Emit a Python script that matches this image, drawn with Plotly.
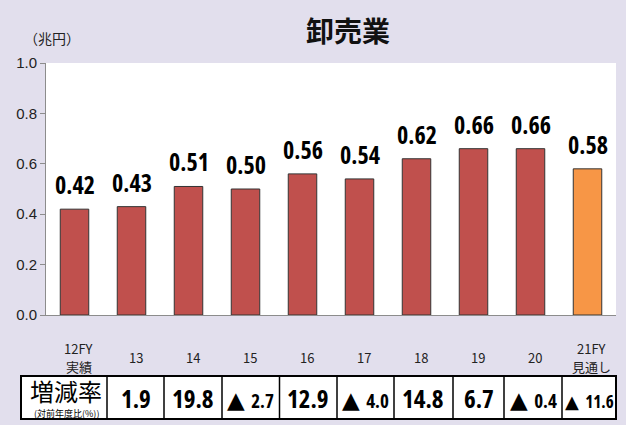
import plotly.graph_objects as go

# Wholesale sales (trillion yen) by fiscal year
categories = ["12FY<br>実績", "13", "14", "15", "16", "17", "18", "19", "20", "21FY<br>見通し"]
values = [0.42, 0.43, 0.51, 0.50, 0.56, 0.54, 0.62, 0.66, 0.66, 0.58]
growth = [1.9, 19.8, -2.7, 12.9, -4.0, 14.8, 6.7, -0.4, -11.6]
bar_colors = ["#C0504D"] * 9 + ["#F79646"]
y_ticks = [0.0, 0.2, 0.4, 0.6, 0.8, 1.0]

W, H = 626, 425
ML, MR, MT, MB = 46, 10, 63, 110
PW, PH = W - ML - MR, H - MT - MB

NUM_FONT = "Open Sans, Liberation Sans, Arial, sans-serif"
JP_FONT = "Noto Sans CJK JP, sans-serif"
NARROW = "font-stretch:75%"


def px_x(p):
    return (p - ML) / PW


def px_y(p):
    return (H - MB - p) / PH


xs = list(range(len(categories)))

fig = go.Figure(
    go.Bar(
        x=xs,
        y=values,
        width=0.5,
        marker=dict(color=bar_colors, line=dict(color="#333333", width=1)),
        hoverinfo="skip",
    )
)

annotations = []
# value labels above bars
for x, v in zip(xs, values):
    annotations.append(dict(
        x=x, y=v, xref="x", yref="y",
        text=f"<span style='{NARROW}'>{v:.2f}</span>", showarrow=False,
        yanchor="bottom", yshift=6,
        font=dict(family=NUM_FONT, size=24, color="#000000", weight="bold"),
    ))

# category labels under the axis (two-line labels placed line by line)
for x, c in zip(xs, categories):
    lines = c.split("<br>")
    ys = [357] if len(lines) == 1 else [348, 366]
    for line, py in zip(lines, ys):
        annotations.append(dict(
            x=x, y=px_y(py), xref="x", yref="paper", text=line,
            showarrow=False, xshift=4, yanchor="middle",
            font=dict(family=JP_FONT, size=13, color="#222222"),
        ))

# title and unit
annotations.append(dict(
    x=px_x(348), y=px_y(30), xref="paper", yref="paper", text="<b>卸売業</b>",
    showarrow=False, xanchor="center", yanchor="middle",
    font=dict(family=JP_FONT, size=28, color="#111111"),
))
annotations.append(dict(
    x=px_x(52), y=px_y(38), xref="paper", yref="paper", text="（兆円）",
    showarrow=False, xanchor="center", yanchor="middle",
    font=dict(family=JP_FONT, size=14, color="#222222"),
))

# growth-rate table
col_edges = [21, 107, 164, 222, 279.5, 337, 394, 453, 504, 562, 616]
t_top, t_bot = 376, 419
shapes = [dict(
    type="rect", xref="paper", yref="paper",
    x0=px_x(col_edges[0]), x1=px_x(col_edges[-1]), y0=px_y(t_bot), y1=px_y(t_top),
    line=dict(color="#000000", width=2), fillcolor="#FFFFFF", layer="below",
)]
for e in col_edges[1:-1]:
    shapes.append(dict(
        type="line", xref="paper", yref="paper",
        x0=px_x(e), x1=px_x(e), y0=px_y(t_bot), y1=px_y(t_top),
        line=dict(color="#000000", width=1.5),
    ))

annotations.append(dict(
    x=px_x(66), y=px_y(390), xref="paper", yref="paper", text="増減率",
    showarrow=False, xanchor="center", yanchor="middle",
    font=dict(family=JP_FONT, size=24, color="#000000"),
))
annotations.append(dict(
    x=px_x(66), y=px_y(413), xref="paper", yref="paper", text="(対前年度比(%))",
    showarrow=False, xanchor="center", yanchor="middle",
    font=dict(family=JP_FONT, size=9, color="#000000"),
))

TRI = "font-family:DejaVu Sans;font-size:{}px"
for i, g in enumerate(growth):
    cx = (col_edges[i + 1] + col_edges[i + 2]) / 2
    if g < 0:
        big = abs(g) >= 10
        txt = (f"<span style='{TRI.format(18 if big else 23)}'>▲</span> "
               f"<span style='{NARROW};font-size:{17 if big else 19}px'>{abs(g):.1f}</span>")
    else:
        txt = f"<span style='{NARROW}'>{g:.1f}</span>"
    annotations.append(dict(
        x=px_x(cx), y=px_y(398), xref="paper", yref="paper", text=txt,
        showarrow=False, xanchor="center", yanchor="middle",
        font=dict(family=NUM_FONT, size=25, color="#000000", weight="bold"),
    ))

fig.update_layout(
    width=W, height=H,
    margin=dict(l=ML, r=MR, t=MT, b=MB),
    paper_bgcolor="#E2DFED",
    plot_bgcolor="#FFFFFF",
    showlegend=False,
    bargap=0.5,
    annotations=annotations,
    shapes=shapes,
    xaxis=dict(
        range=[-0.5, len(categories) - 0.5],
        showticklabels=False, ticks="", showgrid=False, zeroline=False,
        showline=True, linecolor="#8C8C8C", linewidth=1,
    ),
    yaxis=dict(
        range=[0, 1.0], tickvals=y_ticks, ticktext=[f"{t:.1f}" for t in y_ticks],
        ticks="outside", ticklen=5, tickcolor="#8C8C8C",
        showgrid=False, zeroline=False,
        showline=True, linecolor="#8C8C8C", linewidth=1,
        tickfont=dict(family="Liberation Sans, Arial, sans-serif", size=15, color="#222222"),
    ),
)

fig.write_html("out.html")
